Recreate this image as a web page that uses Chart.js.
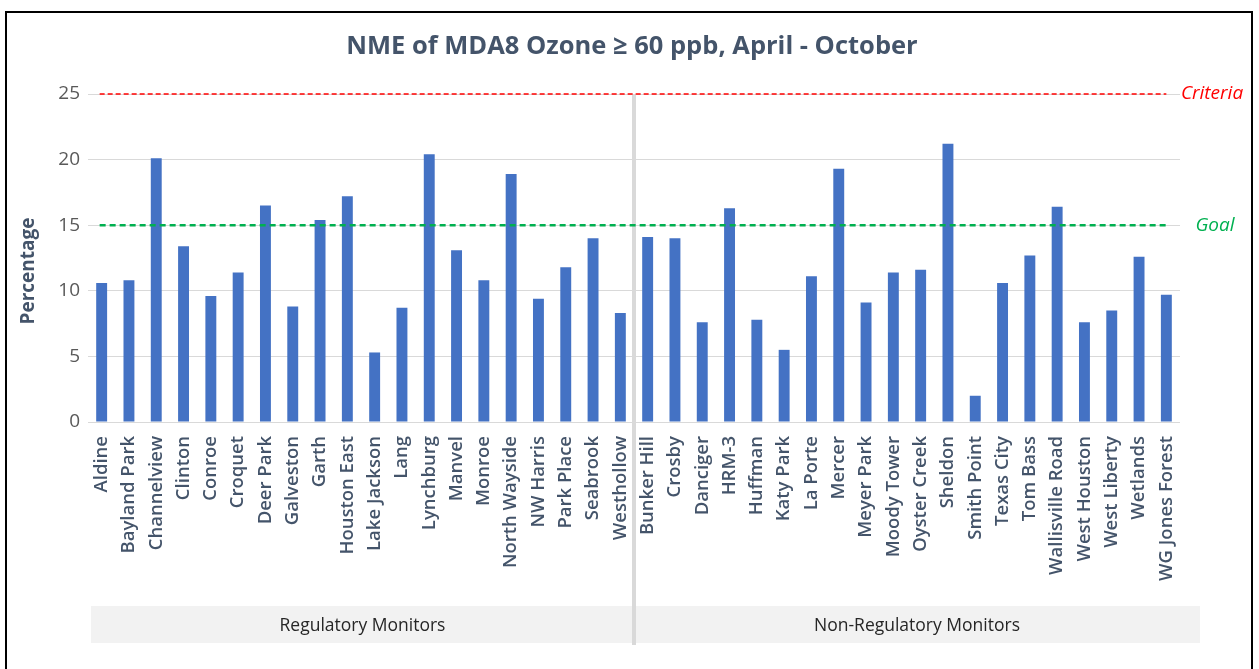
<!DOCTYPE html>
<html>
<head>
<meta charset="utf-8">
<script src="https://cdn.jsdelivr.net/npm/chart.js@4"></script>
<style>
  html, body { margin: 0; padding: 0; background: #fff; width: 1259px; height: 669px; overflow: hidden; }
  #frame { position: absolute; left: 5px; top: 11px; width: 1248px; height: 700px; border: 2px solid #000; box-sizing: border-box; }
  canvas { position: absolute; left: 0; top: 0; }
</style>
</head>
<body>
<div id="frame"></div>
<canvas id="c" width="1259" height="669"></canvas>
<script>
const regulatorySites = ["Aldine","Bayland Park","Channelview","Clinton","Conroe","Croquet","Deer Park","Galveston","Garth","Houston East","Lake Jackson","Lang","Lynchburg","Manvel","Monroe","North Wayside","NW Harris","Park Place","Seabrook","Westhollow"];
const regulatoryValues = [10.6,10.8,20.1,13.4,9.6,11.4,16.5,8.8,15.4,17.2,5.3,8.7,20.4,13.1,10.8,18.9,9.4,11.8,14.0,8.3];
const nonRegulatorySites = ["Bunker Hill","Crosby","Danciger","HRM-3","Huffman","Katy Park","La Porte","Mercer","Meyer Park","Moody Tower","Oyster Creek","Sheldon","Smith Point","Texas City","Tom Bass","Wallisville Road","West Houston","West Liberty","Wetlands","WG Jones Forest"];
const nonRegulatoryValues = [14.1,14.0,7.6,16.3,7.8,5.5,11.1,19.3,9.1,11.4,11.6,21.2,2.0,10.6,12.7,16.4,7.6,8.5,12.6,9.7];
const groupNames = ["Regulatory Monitors","Non-Regulatory Monitors"];
const yTicks = [0,5,10,15,20,25];
const criteriaValue = 25;
const goalValue = 15;
const chartTitle = 'NME of MDA8 Ozone \u2265 60 ppb, April - October';
const yAxisTitle = 'Percentage';

const labels = regulatorySites.concat(nonRegulatorySites);
const values = regulatoryValues.concat(nonRegulatoryValues);

const FONT = '"Open Sans", Lato, sans-serif';

const overlay = {
  id: 'overlay',
  beforeDatasetsDraw(chart) {
    const {ctx, chartArea, scales: {x, y}} = chart;
    const n1 = regulatorySites.length;
    const sepX = (x.getPixelForValue(n1 - 1) + x.getPixelForValue(n1)) / 2;
    const half = (x.getPixelForValue(1) - x.getPixelForValue(0)) / 2;
    const boxTop = 606, boxBot = 643;
    ctx.save();
    // chart title
    ctx.fillStyle = '#44546A';
    ctx.font = 'bold 25.5px ' + FONT;
    ctx.textAlign = 'center';
    ctx.textBaseline = 'middle';
    ctx.fillText(chartTitle, 632, 47);
    // y axis title
    ctx.save();
    ctx.translate(29, (chartArea.top + chartArea.bottom) / 2 + 13);
    ctx.rotate(-Math.PI / 2);
    ctx.font = 'bold 19px ' + FONT;
    ctx.fillText(yAxisTitle, 0, 0);
    ctx.restore();
    // group boxes
    ctx.fillStyle = '#F2F2F2';
    const lx = x.getPixelForValue(0) - half + 3;
    ctx.fillRect(lx, boxTop, sepX - 2 - lx, boxBot - boxTop);
    const rx2 = chartArea.right + 20;
    ctx.fillRect(sepX + 2, boxTop, rx2 - sepX - 2, boxBot - boxTop);
    ctx.fillStyle = '#262626';
    ctx.font = '17.5px ' + FONT;
    ctx.fillText(groupNames[0], (lx + sepX) / 2, (boxTop + boxBot) / 2 + 2);
    ctx.fillText(groupNames[1], (sepX + rx2) / 2, (boxTop + boxBot) / 2 + 2);
    // separator
    ctx.strokeStyle = '#D9D9D9';
    ctx.lineWidth = 4;
    ctx.beginPath();
    ctx.moveTo(sepX, y.getPixelForValue(criteriaValue));
    ctx.lineTo(sepX, boxBot + 2);
    ctx.stroke();
    ctx.restore();
  },
  afterDatasetsDraw(chart) {
    const {ctx, chartArea, scales: {x, y}} = chart;
    const x0 = x.getPixelForValue(0) - 2;
    const x1 = x.getPixelForValue(labels.length - 1);
    ctx.save();
    const yc = y.getPixelForValue(criteriaValue);
    ctx.strokeStyle = '#FF0000';
    ctx.lineWidth = 1.5;
    ctx.setLineDash([5, 3]);
    ctx.beginPath(); ctx.moveTo(x0, yc); ctx.lineTo(x1, yc); ctx.stroke();
    const yg = y.getPixelForValue(goalValue);
    ctx.strokeStyle = '#00B050';
    ctx.lineWidth = 2.5;
    ctx.setLineDash([6, 4]);
    ctx.beginPath(); ctx.moveTo(x0, yg); ctx.lineTo(x1, yg); ctx.stroke();
    ctx.setLineDash([]);
    ctx.font = 'italic 19px ' + FONT;
    ctx.textAlign = 'center';
    ctx.textBaseline = 'middle';
    ctx.fillStyle = '#FF0000';
    ctx.fillText('Criteria', chartArea.right + 32, yc);
    ctx.fillStyle = '#00B050';
    ctx.fillText('Goal', chartArea.right + 35, yg);
    ctx.restore();
  }
};

new Chart(document.getElementById('c'), {
  type: 'bar',
  data: {
    labels: labels,
    datasets: [{
      data: values,
      backgroundColor: '#4472C4',
      barPercentage: 0.4,
      categoryPercentage: 1.0
    }]
  },
  options: {
    responsive: false,
    animation: false,
    layout: { padding: { top: 94, left: 20, right: 79, bottom: 47 } },
    plugins: {
      legend: { display: false },
      tooltip: { enabled: false },
      title: { display: false }
    },
    scales: {
      x: {
        grid: { display: false },
        border: { display: false },
        ticks: {
          autoSkip: false, maxRotation: 90, minRotation: 90, padding: 6,
          color: '#44546A',
          font: { family: FONT, size: 18.5, weight: '600' }
        },
        afterFit(s) { s.height = 200; }
      },
      y: {
        min: 0, max: 25,
        afterBuildTicks(s) { s.ticks = yTicks.map(v => ({ value: v })); },
        grid: { color: '#D9D9D9', drawTicks: false },
        border: { display: false },
        ticks: {
          padding: 8,
          color: '#595959',
          font: { family: FONT, size: 19 }
        },
        afterFit(s) { s.width = 68; }
      }
    }
  },
  plugins: [overlay]
});
</script>
</body>
</html>
